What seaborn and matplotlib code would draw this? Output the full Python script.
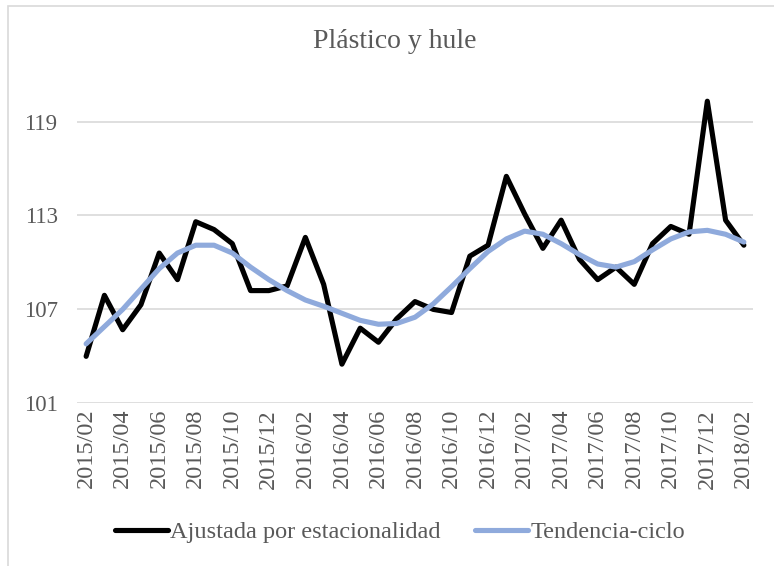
import matplotlib
matplotlib.use("Agg")
import matplotlib.pyplot as plt
from matplotlib.patches import Rectangle
import seaborn as sns
import pandas as pd
import numpy as np

months = [f"{y}/{m:02d}" for y, m in
          [(2015 + (i + 1) // 12, (i + 1) % 12 + 1) for i in range(37)]]

ajustada = [104.0, 107.9, 105.7, 107.3, 110.6, 108.9, 112.6, 112.1, 111.2, 108.2,
            108.2, 108.5, 111.6, 108.6, 103.5, 105.8, 104.9, 106.4, 107.5, 107.0,
            106.8, 110.4, 111.1, 115.5, 113.1, 110.9, 112.7, 110.2, 108.9, 109.7,
            108.6, 111.2, 112.3, 111.8, 120.3, 112.7, 111.1]

tendencia = [104.8, 105.9, 107.0, 108.3, 109.6, 110.6, 111.1, 111.1, 110.6, 109.7,
             108.9, 108.2, 107.6, 107.2, 106.75, 106.3, 106.05, 106.1, 106.5, 107.35,
             108.45, 109.6, 110.7, 111.5, 112.0, 111.8, 111.2, 110.5, 109.9, 109.7,
             110.05, 110.8, 111.5, 111.95, 112.05, 111.8, 111.3]

series_names = ["Ajustada por estacionalidad", "Tendencia-ciclo"]
colors = ["#000000", "#8FAADC"]
yticks = [101, 107, 113, 119]

df = pd.DataFrame({
    "pos": list(range(len(months))) * 2,
    "value": ajustada + tendencia,
    "serie": [series_names[0]] * len(months) + [series_names[1]] * len(months),
})

sns.set_style("white")
plt.rcParams["font.family"] = ["Liberation Serif", "DejaVu Serif"]

fig = plt.figure(figsize=(7.74, 5.66), dpi=100)
ax = fig.add_axes([77 / 774, 1 - 403.3 / 566, (753 - 77) / 774, (403.3 - 74.6) / 566])

sns.lineplot(data=df, x="pos", y="value", hue="serie", palette=colors,
             hue_order=series_names, linewidth=3.7, ax=ax, legend=True)

ax.set_ylim(101, 122)
ax.set_xlim(-0.5, len(months) - 0.5)
ax.set_yticks(yticks)
ax.set_yticklabels([str(v) for v in yticks])
ax.set_xticks(range(0, len(months), 2))
ax.set_xticklabels(months[::2], rotation=90)
ax.tick_params(axis="y", length=0, labelsize=16.5, labelcolor="#595959", pad=14)
ax.tick_params(axis="x", length=0, labelsize=17.5, labelcolor="#595959", pad=4)
ax.grid(axis="y", color="#D9D9D9", linewidth=1.2)
ax.set_axisbelow(True)
for s in ax.spines.values():
    s.set_visible(False)
ax.set_xlabel("")
ax.set_ylabel("")

fig.text(395 / 774, 1 - 42 / 566, "Plástico y hule", ha="center", va="center",
         fontsize=20, color="#595959")

handles, labels = ax.get_legend_handles_labels()
ax.legend(handles, labels, loc="center", bbox_to_anchor=(400 / 774, 1 - 532 / 566),
          bbox_transform=fig.transFigure, ncol=2, frameon=False, fontsize=17.5,
          handlelength=2.2, handletextpad=0.1, columnspacing=1.4,
          labelcolor="#595959")

fig.patches.append(Rectangle((8 / 774, -0.2), 1.2, 1 - 6 / 566 + 0.2,
                             transform=fig.transFigure, fill=False,
                             edgecolor="#D9D9D9", linewidth=1.2))

fig.savefig("out.png", dpi=100)
